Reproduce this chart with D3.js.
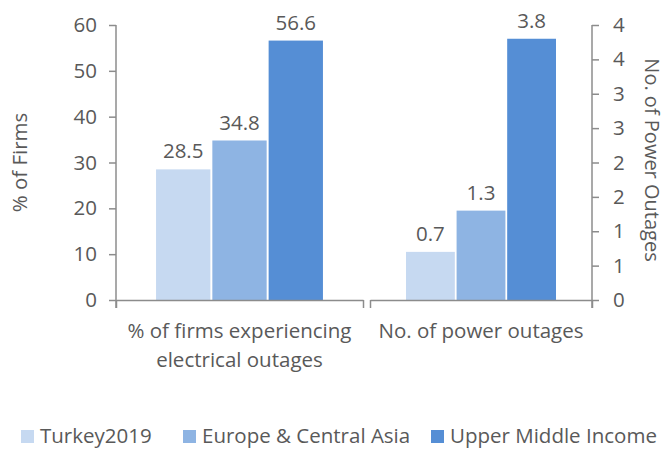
<!DOCTYPE html>
<html>
<head>
<meta charset="utf-8">
<script src="https://cdn.jsdelivr.net/npm/d3@7"></script>
<style>
  body { margin: 0; background: #fff; overflow: hidden; }
  svg { display: block; }
  svg text { font-family: "Open Sans", sans-serif; fill: #595959; }
  .axis path, .axis line { stroke: #8c8c8c; stroke-width: 1.5; }
</style>
</head>
<body>
<svg id="chart"></svg>
<script>
var series = ['Turkey2019', 'Europe & Central Asia', 'Upper Middle Income'];
var colors = ['#c6d9f1', '#8eb4e3', '#558ed5'];
var firmsValues = [28.5, 34.8, 56.6];
var outageValues = [0.7, 1.3, 3.8];
var categories = ['% of firms experiencing electrical outages', 'No. of power outages'];
var leftTicks = [0, 10, 20, 30, 40, 50, 60];
var rightTicks = [0, 0.5, 1, 1.5, 2, 2.5, 3, 3.5, 4];

var width = 665, height = 449;
var fontSize = '20.5px';
var svg = d3.select('#chart').attr('width', width).attr('height', height);

var plotTop = 25, plotBottom = 300;
var yLeft = d3.scaleLinear().domain([0, 60]).range([plotBottom, plotTop]);
var yRight = d3.scaleLinear().domain([0, 4]).range([plotBottom, plotTop]);

var plots = [
  { name: categories[0], values: firmsValues, y: yLeft, range: [116, 363],
    lines: ['% of firms experiencing', 'electrical outages'] },
  { name: categories[1], values: outageValues, y: yRight, range: [370, 592],
    lines: ['No. of power outages'] }
];

plots.forEach(function(p) {
  var x0 = d3.scaleBand().domain([p.name]).range(p.range).paddingOuter(0.24).paddingInner(0);
  var x1 = d3.scaleBand().domain(series).range([0, x0.bandwidth()]).paddingInner(0.035);

  var g = svg.append('g');
  g.selectAll('rect')
    .data(p.values)
    .enter()
    .append('rect')
      .attr('x', (d, i) => x0(p.name) + x1(series[i]))
      .attr('y', d => p.y(d))
      .attr('width', x1.bandwidth())
      .attr('height', d => p.y(0) - p.y(d))
      .attr('fill', (d, i) => colors[i]);

  g.selectAll('.val')
    .data(p.values)
    .enter()
    .append('text')
      .classed('val', true)
      .attr('x', (d, i) => x0(p.name) + x1(series[i]) + x1.bandwidth() / 2)
      .attr('y', d => p.y(d) - 11)
      .style('font-size', fontSize)
      .style('text-anchor', 'middle')
      .text(d => d3.format('.1f')(d));

  // category axis: line with end ticks pointing down
  svg.append('g')
    .classed('axis', true)
    .attr('transform', 'translate(0,' + plotBottom + ')')
    .call(d3.axisBottom(d3.scaleLinear().domain([0, 1]).range(p.range))
            .tickValues([0, 1]).tickSize(8).tickSizeOuter(0).tickFormat(''));

  var cx = x0(p.name) + x0.bandwidth() / 2;
  var label = svg.append('text')
    .attr('x', cx)
    .attr('y', 338)
    .style('font-size', fontSize)
    .style('text-anchor', 'middle');
  p.lines.forEach(function(w, i) {
    label.append('tspan')
      .attr('x', cx)
      .attr('dy', i === 0 ? 0 : 29)
      .text(w);
  });
});

// left axis
svg.append('g')
  .classed('axis', true)
  .attr('transform', 'translate(116,0)')
  .call(d3.axisLeft(yLeft).tickValues(leftTicks).tickSize(7).tickSizeOuter(0).tickPadding(12))
  .call(g => g.select('.domain').attr('d', 'M0,' + plotTop + 'V' + (plotBottom + 8)))
  .selectAll('text')
    .style('font-size', fontSize);

// right axis
svg.append('g')
  .classed('axis', true)
  .attr('transform', 'translate(592,0)')
  .call(d3.axisRight(yRight).tickValues(rightTicks).tickSize(7).tickSizeOuter(0).tickPadding(14)
          .tickFormat(d => Math.round(d)))
  .call(g => g.select('.domain').attr('d', 'M0,' + plotTop + 'V' + (plotBottom + 8)))
  .selectAll('text')
    .style('font-size', fontSize);

svg.selectAll('.axis text').style('fill', '#595959').style('font-family', '"Open Sans", sans-serif');

// axis titles
svg.append('text')
  .attr('transform', 'translate(27,' + (plotTop + plotBottom) / 2 + ') rotate(-90)')
  .style('font-size', fontSize)
  .style('text-anchor', 'middle')
  .text('% of Firms');

svg.append('text')
  .attr('transform', 'translate(645,160) rotate(90)')
  .style('font-size', '20px')
  .style('text-anchor', 'middle')
  .text('No. of Power Outages');

// legend
var legendX = [21, 183, 431];
var legend = svg.selectAll('.legend')
  .data(series)
  .enter()
  .append('g')
    .classed('legend', true)
    .attr('transform', (d, i) => 'translate(' + legendX[i] + ',429)');
legend.append('rect')
  .attr('y', 1)
  .attr('width', 13)
  .attr('height', 13)
  .attr('fill', (d, i) => colors[i]);
legend.append('text')
  .attr('x', 19)
  .attr('y', 14)
  .style('font-size', fontSize)
  .text(d => d);
</script>
</body>
</html>
